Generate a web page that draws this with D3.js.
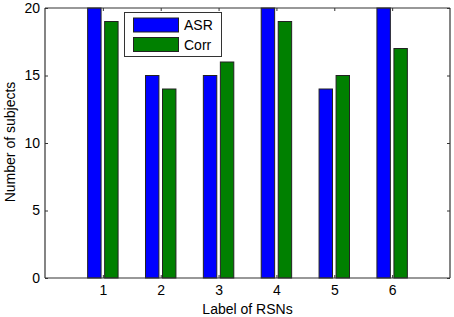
<!DOCTYPE html>
<html><head><meta charset="utf-8">
<script src="https://cdn.jsdelivr.net/npm/d3@7"></script>
<style>body{margin:0;background:#fff}svg{display:block;font-family:"Liberation Sans",Arial,sans-serif}</style>
</head><body><svg id="c" width="454" height="317"></svg>
<script>
const categories = [1,2,3,4,5,6];
const asr = [20,15,15,20,14,20];
const corr = [19,14,16,19,15,17];
const seriesNames = ["ASR","Corr"];
const seriesColors = ["#0000ff","#008000"];
const yTicks = [0,5,10,15,20];

const svg = d3.select("#c");
const L=45, R=450, T=8, B=278;
const x = d3.scaleLinear().domain([0,7]).range([L,R]);
const y = d3.scaleLinear().domain([0,20]).range([B,T]);
const off = 0.147, bw = 0.232;
const data = [asr, corr];

svg.append("rect").attr("x",L).attr("y",T).attr("width",R-L).attr("height",B-T).attr("fill","#fff");

data.forEach((vals,si)=>{
  svg.append("g").selectAll("rect").data(vals).join("rect")
    .attr("x",(d,i)=>x(categories[i]+(si?off:-off)-bw/2))
    .attr("width",x(bw)-x(0))
    .attr("y",d=>y(d))
    .attr("height",d=>y(0)-y(d))
    .attr("fill",seriesColors[si])
    .attr("stroke","#222").attr("stroke-width",1);
});

const axisColor="#333";
const gB = svg.append("g").attr("transform",`translate(0,${B})`)
  .call(d3.axisBottom(x).tickValues(categories).tickSize(-3).tickPadding(7).tickFormat(d3.format("d")));
const gT = svg.append("g").attr("transform",`translate(0,${T})`)
  .call(d3.axisTop(x).tickValues(categories).tickSize(-3).tickFormat(""));
const gL = svg.append("g").attr("transform",`translate(${L},0)`)
  .call(d3.axisLeft(y).tickValues(yTicks).tickSize(-3).tickPadding(5));
const gR = svg.append("g").attr("transform",`translate(${R},0)`)
  .call(d3.axisRight(y).tickValues(yTicks).tickSize(-3).tickFormat(""));
[gB,gT,gL,gR].forEach(g=>{
  g.select(".domain").attr("stroke",axisColor).attr("stroke-width",1.2);
  g.selectAll(".tick line").attr("stroke",axisColor);
  g.selectAll("text").attr("fill","#000").style("font-size","14px").style("font-family","'Liberation Sans',Arial,sans-serif");
});
gB.select(".domain").attr("d",`M${L},0H${R}`);
gT.select(".domain").attr("d",`M${L},0H${R}`);
gL.select(".domain").attr("d",`M0,${B}V${T}`);
gR.select(".domain").attr("d",`M0,${B}V${T}`);

svg.append("text").attr("x",(L+R)/2).attr("y",314).attr("text-anchor","middle")
  .style("font-size","14px").text("Label of RSNs");
svg.append("text").attr("transform",`translate(15,142) rotate(-90)`).attr("text-anchor","middle")
  .style("font-size","14px").text("Number of subjects");

// legend
const lg = svg.append("g");
lg.append("rect").attr("x",124.5).attr("y",12.5).attr("width",97).attr("height",44)
  .attr("fill","#fff").attr("stroke","#333");
seriesNames.forEach((n,i)=>{
  const yy = 18 + i*19.5;
  lg.append("rect").attr("x",133.5).attr("y",yy).attr("width",45).attr("height",14)
    .attr("fill",seriesColors[i]).attr("stroke","#222");
  lg.append("text").attr("x",184).attr("y",yy+12).style("font-size","14px").text(n);
});
</script></body></html>
